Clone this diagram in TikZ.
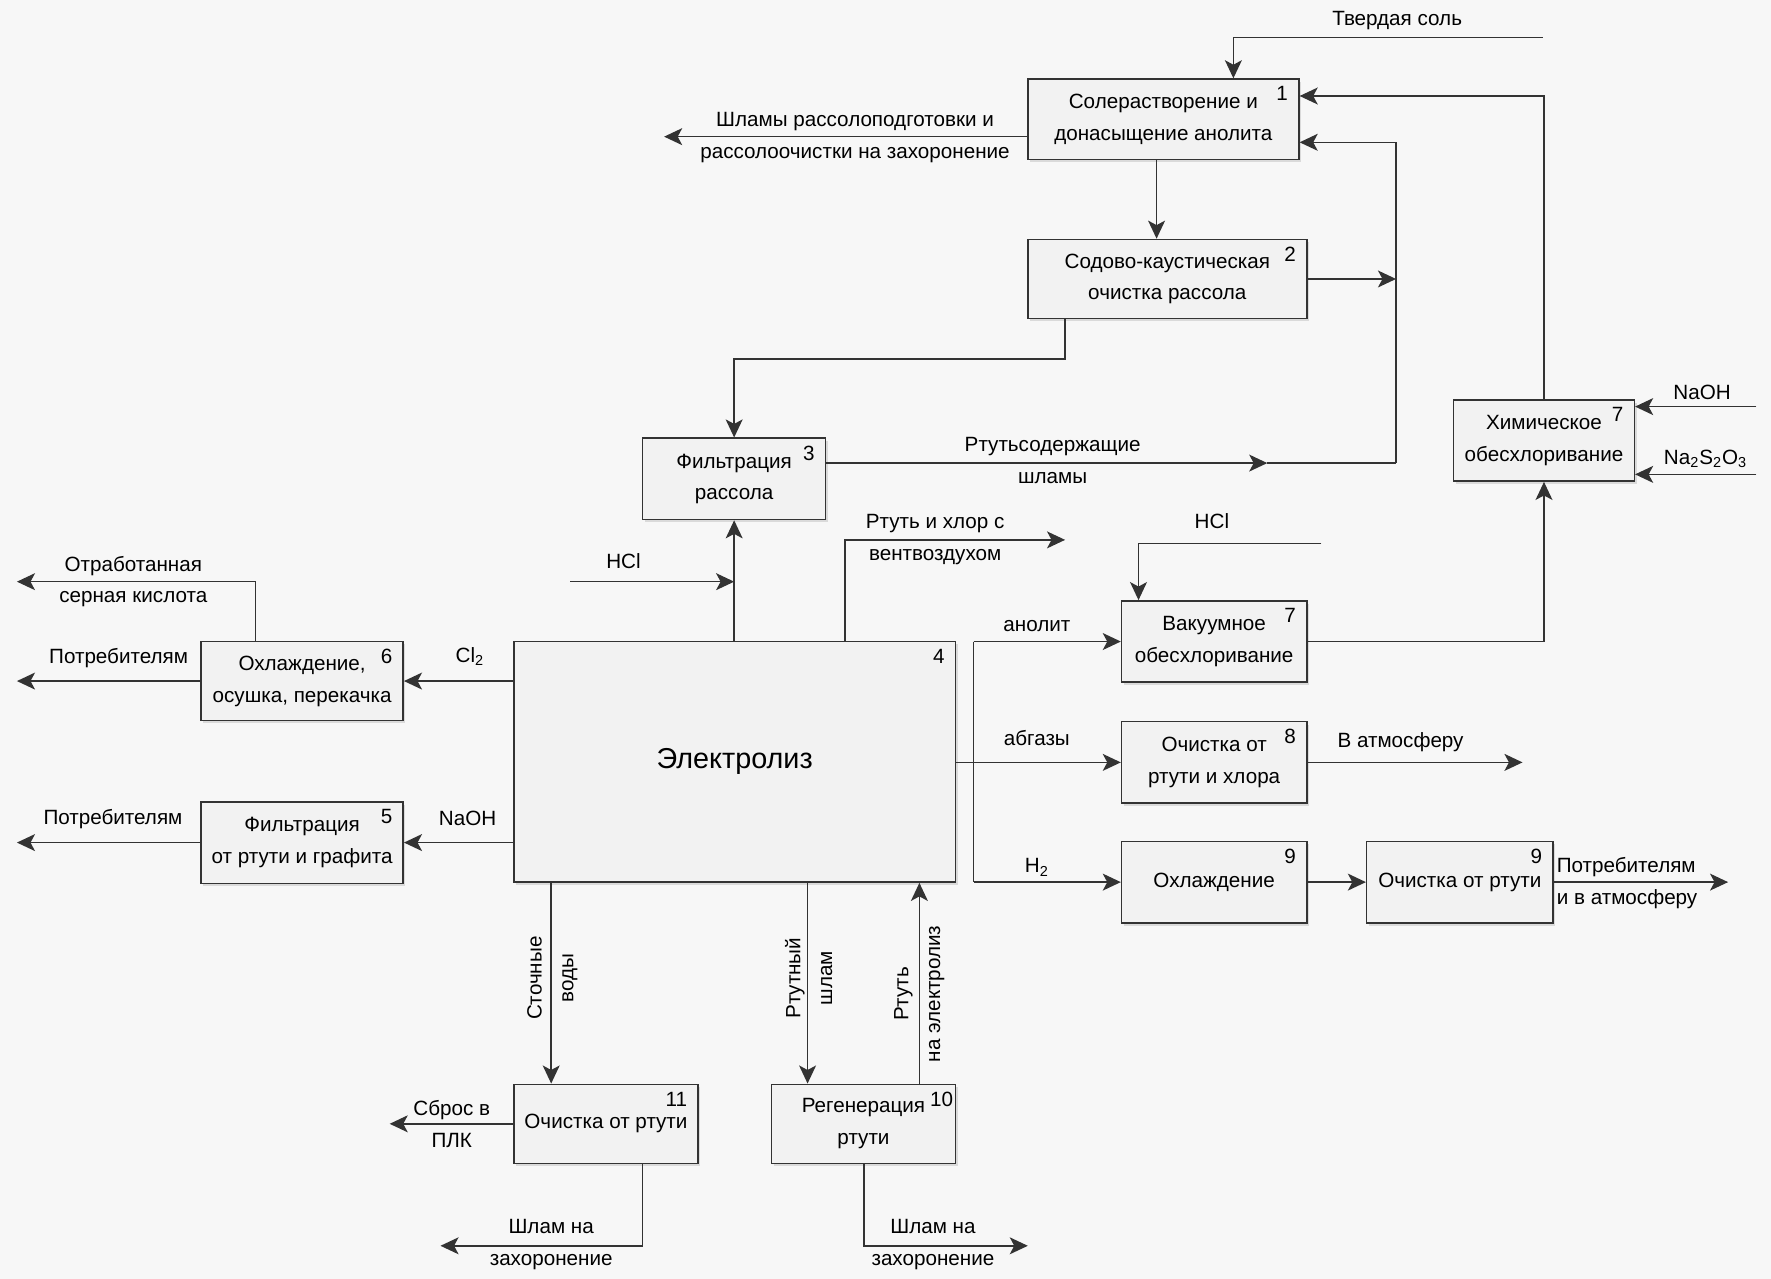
\documentclass[tikz,border=0pt]{standalone}
\usepackage{fontspec}
\setmainfont{Liberation Sans}
\usetikzlibrary{arrows.meta,positioning,shadows}

\tikzset{
  blk/.style={draw=black!80, line width=0.75pt, fill=black!5, align=center,
    minimum width=32.8mm, minimum height=14.4mm, inner sep=1pt,
    drop shadow={shadow xshift=0.4mm, shadow yshift=-0.5mm, fill=black!25, opacity=0.5}},
  nr/.style={label={[anchor=north east, inner sep=0pt, xshift=-2mm, yshift=-1.4mm]north east:#1}},
  arr/.style={draw=black!80, line width=0.75pt, -{Stealth[length=3.2mm, width=3mm, inset=0.8mm]}},
  ln/.style={draw=black!80, line width=0.75pt},
  txt/.style={align=center, inner sep=0pt},
}

\begin{document}
\begin{tikzpicture}[x=0.2mm, y=-0.2mm, font=\fontsize{10.4}{16}\selectfont]
  \fill[black!3] (0,0) rectangle (1568,1132);
  \useasboundingbox (0,0) rectangle (1568,1132);

  % blocks
  \node[blk, nr=1, minimum width=48mm, minimum height=14.2mm] (b1) at (1030,105.5) {Солерастворение и\\донасыщение анолита};
  \node[blk, nr=2, minimum width=49.4mm, minimum height=14mm] (b2) at (1033.5,247) {Содово-каустическая\\очистка рассола};
  \node[blk, nr=3, minimum width=32.4mm] (b3) at (650,424) {Фильтрация\\рассола};
  \node[blk, nr=4, minimum width=78.2mm, minimum height=42.6mm, font=\fontsize{14.5}{16}\selectfont] (b4) at (650.5,674.5) {Электролиз};
  \node[blk, nr=6, minimum width=35.8mm, minimum height=14mm] (b6) at (267.5,603) {Охлаждение,\\осушка, перекачка};
  \node[blk, nr=5, minimum width=35.8mm] (b5) at (267.5,746) {Фильтрация\\от ртути и графита};
  \node[blk, nr=7] (b7a) at (1075,568) {Вакуумное\\обесхлоривание};
  \node[blk, nr=8] (b8) at (1075,675) {Очистка от\\ртути и хлора};
  \node[blk, nr=9] (b9a) at (1075,781) {Охлаждение};
  \node[blk, nr=9, minimum width=33mm] (b9b) at (1292.5,781) {Очистка от ртути};
  \node[blk, nr=7, minimum width=32mm] (b7b) at (1367,390) {Химическое\\обесхлоривание};
  \node[blk, nr=11, minimum width=32.6mm, minimum height=14mm] (b11) at (536.5,995) {Очистка от ртути};
  \node[blk, minimum width=32.6mm, minimum height=14mm,
    label={[anchor=north east, inner sep=0pt, xshift=-0.5mm, yshift=-1.4mm]north east:10}] (b10) at (764.5,995) {Регенерация\\ртути};

  % free ends
  \coordinate (ts) at (1366,33);
  \coordinate (shl) at (588,121);
  \coordinate (jt) at (1236,410);
  \coordinate (mh) at (1122,410);
  \coordinate (hcl1) at (505,515);
  \coordinate (rhv) at (943,478);
  \coordinate (p6) at (15,603);
  \coordinate (osk) at (15,515);
  \coordinate (p5) at (15,746);
  \coordinate (hcl2) at (1170,481);
  \coordinate (nao) at (1555,360);
  \coordinate (nas) at (1555,420);
  \coordinate (atm) at (1348,675);
  \coordinate (pot) at (1530,781);
  \coordinate (plk) at (345,995);
  \coordinate (z1) at (390,1103);
  \coordinate (z2) at (910,1103);

  % upper loop
  \draw[arr] (ts) -- (1092,33) -- (1092,0 |- b1.north);
  \draw[arr] (b1.west |- 0,121) -- (shl);
  \draw[arr] (b1.south -| 1024,0) -- (b2.north -| 1024,0);
  \draw[arr] (b7b.north) -- (b7b.north |- 0,85) -- (b1.east |- 0,85);
  \draw[arr] (jt) -- (1236,126) -- (b1.east |- 0,126);
  \draw[arr] (b2.east) -- (1236,0 |- b2.east);
  \draw[arr] (b3.east |- mh) -- (mh);
  \draw[ln] (mh) -- (jt);
  \draw[arr] (b2.south -| 943,0) -- (943,318) -- (650,318) -- (b3.north);

  % electrolysis
  \draw[arr] (b4.north -| b3.south) -- (b3.south);
  \draw[arr] (hcl1) -- (b3.south |- hcl1);
  \draw[arr] (b4.north -| 748,0) -- (748,478) -- (rhv);
  \draw[arr] (b4.west |- b6.east) -- (b6.east);
  \draw[arr] (b6.west) -- (p6);
  \draw[arr] (b6.north -| 226,0) -- (226,515) -- (osk);
  \draw[arr] (b4.west |- b5.east) -- (b5.east);
  \draw[arr] (b5.west) -- (p5);

  % right branches
  \draw[ln] (b4.east |- b8.west) -- (862,0 |- b8.west);
  \draw[ln] (862,0 |- b7a.west) -- (862,0 |- b9a.west);
  \draw[arr] (862,0 |- b7a.west) -- (b7a.west);
  \draw[arr] (862,0 |- b8.west) -- (b8.west);
  \draw[arr] (862,0 |- b9a.west) -- (b9a.west);
  \draw[arr] (hcl2) -- (1008,0 |- hcl2) -- (1008,0 |- b7a.north);
  \draw[arr] (b7a.east) -- (b7b.south |- b7a.east) -- (b7b.south);
  \draw[arr] (nao) -- (b7b.east |- nao);
  \draw[arr] (nas) -- (b7b.east |- nas);
  \draw[arr] (b8.east) -- (atm);
  \draw[arr] (b9a) -- (b9b);
  \draw[arr] (b9b.east) -- (pot);

  % bottom
  \draw[arr] (b4.south -| 488,0) -- (b11.north -| 488,0);
  \draw[arr] (b4.south -| 715,0) -- (b10.north -| 715,0);
  \draw[arr] (b10.north -| 814,0) -- (b4.south -| 814,0);
  \draw[arr] (b11.west) -- (plk);
  \draw[arr] (b11.south -| 569,0) -- (569,0 |- z1) -- (z1);
  \draw[arr] (b10.south -| 765,0) -- (765,0 |- z2) -- (z2);

  % labels
  \node[txt] (lts) at (1237,18) {Твердая соль};
  \node[txt] (lshl) at (757,122) {Шламы рассолоподготовки и\\рассолоочистки на захоронение};
  \node[txt] (lrsh) at (932,408) {Ртутьсодержащие\\шламы};
  \node[txt] (lhcl1) at (552,497) {HCl};
  \node[txt] (lrhv) at (828,478) {Ртуть и хлор с\\вентвоздухом};
  \node[txt] (losk) at (118,515) {Отработанная\\серная кислота};
  \node[txt] (lp6) at (105,583) {Потребителям};
  \node[txt] (lcl) at (416,581) {Cl\textsubscript{2}};
  \node[txt] (lnaoh1) at (414,725) {NaOH};
  \node[txt] (lp5) at (100,725) {Потребителям};
  \node[txt] (lan) at (918,554) {анолит};
  \node[txt] (lab) at (918,653) {абгазы};
  \node[txt] (lh2) at (918,768) {H\textsubscript{2}};
  \node[txt] (lhcl2) at (1073,461) {HCl};
  \node[txt] (lnaoh2) at (1507,347) {NaOH};
  \node[txt] (lnas) at (1510,406) {Na\textsubscript{2}S\textsubscript{2}O\textsubscript{3}};
  \node[txt] (latm) at (1240,657) {В атмосферу};
  \node[txt, align=left, anchor=west] (lpot) at (1378,782) {Потребителям\\и в атмосферу};
  \node[txt, rotate=90] (lsv) at (489,866) {Сточные\\воды};
  \node[txt, rotate=90] (lrsl) at (716,866) {Ртутный\\шлам};
  \node[txt, rotate=90] (lrel) at (814,880) {Ртуть\\на электролиз};
  \node[txt] (lplk) at (400,995) {Сброс в\\ПЛК};
  \node[txt] (lz1) at (488,1102) {Шлам на\\захоронение};
  \node[txt] (lz2) at (826,1102) {Шлам на\\захоронение};
\end{tikzpicture}
\end{document}
